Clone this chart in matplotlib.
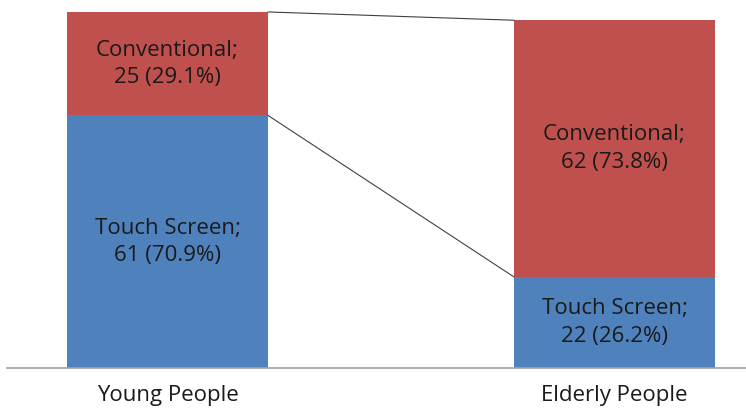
import matplotlib.pyplot as plt

categories = ["Young People", "Elderly People"]
touch = [61, 22]
conventional = [25, 62]
series_names = ["Touch Screen", "Conventional"]

blue = "#4F81BD"
red = "#C0504D"

fig = plt.figure(figsize=(7.46, 4.08), dpi=100)
ax = fig.add_axes([7 / 746, 1 - 368 / 408, 739 / 746, 368 / 408])

x = [0, 1]
width = 0.45
ax.bar(x, touch, width, color=blue)
ax.bar(x, conventional, width, bottom=touch, color=red)

# series lines between the stacks
tops = [t + c for t, c in zip(touch, conventional)]
ax.plot([x[0] + width / 2, x[1] - width / 2], [touch[0], touch[1]],
        color="#404040", lw=0.8)
ax.plot([x[0] + width / 2, x[1] - width / 2], [tops[0], tops[1]],
        color="#404040", lw=0.8)

font = "Open Sans"
for i in range(2):
    total = touch[i] + conventional[i]
    for name, vals, base in [(series_names[0], touch, 0),
                             (series_names[1], conventional, touch[i])]:
        v = vals[i]
        ax.text(x[i], base + v / 2, f"{name};\n{v} ({v / total * 100:.1f}%)",
                ha="center", va="center", fontsize=16, family=font,
                color="#1a1a1a", linespacing=1.4)

ax.set_xlim(-(167.5 - 7) / 447, (746 - 7 - 160.5) / 447)
ax.set_ylim(0, 368 / 4.14)
ax.set_xticks(x)
ax.set_xticklabels(categories, family=font, fontsize=16, color="#1a1a1a")
ax.tick_params(axis="x", length=0, pad=12)
ax.set_yticks([])
for s in ["top", "right", "left"]:
    ax.spines[s].set_visible(False)
ax.spines["bottom"].set_color("#a0a0a0")
ax.spines["bottom"].set_linewidth(1.2)

fig.savefig("out.png", dpi=100)
